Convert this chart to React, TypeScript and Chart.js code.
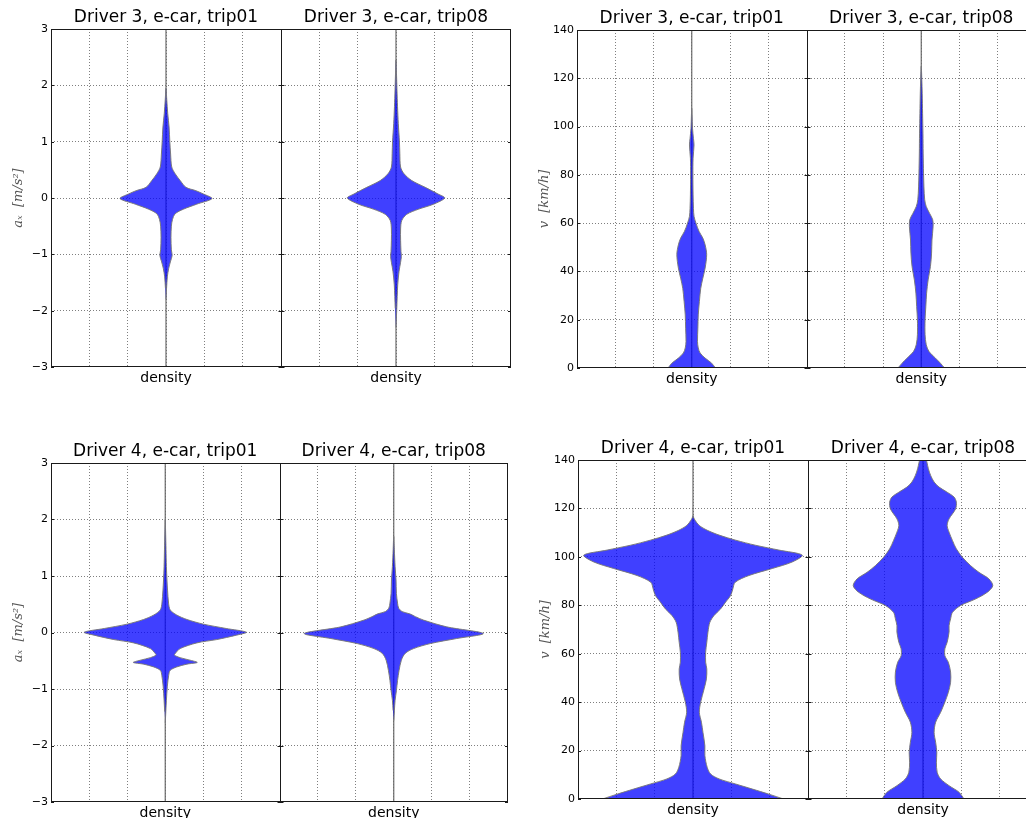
import React, { useEffect, useRef } from 'react';
import { Chart, registerables } from 'chart.js';

Chart.register(...registerables);

// ---------- data ----------
const titlesDriver3 = ['Driver 3, e-car, trip01', 'Driver 3, e-car, trip08'];
const titlesDriver4 = ['Driver 4, e-car, trip01', 'Driver 4, e-car, trip08'];
const xCategoryLabel = 'density';
const accelTitle = 'aₓ  [m/s²]';
const speedTitle = 'v  [km/h]';
const accelTicks = [-3, -2, -1, 0, 1, 2, 3];
const speedTicks = [0, 20, 40, 60, 80, 100, 120, 140];

// violin profiles: y value and half-width (in density grid units)
const d3t01AccY = [-1.8, -1.6, -1.4, -1.25, -1.12, -1.02, -0.92, -0.7, -0.5, -0.38, -0.28, -0.2, -0.11, -0.01, 0.07, 0.13, 0.19, 0.31, 0.43, 0.55, 0.78, 1.0, 1.26, 1.5, 1.74, 1.95];
const d3t01AccW = [0, 0.015, 0.035, 0.07, 0.12, 0.16, 0.14, 0.13, 0.14, 0.17, 0.24, 0.45, 0.8, 1.2, 0.98, 0.78, 0.52, 0.37, 0.24, 0.15, 0.12, 0.1, 0.08, 0.045, 0.02, 0];

const d3t08AccY = [-2.3, -1.96, -1.54, -1.3, -1.14, -1.04, -0.95, -0.75, -0.55, -0.4, -0.29, -0.2, -0.11, 0, 0.07, 0.19, 0.31, 0.43, 0.55, 0.79, 1.0, 1.32, 1.62, 1.92, 2.27, 2.45];
const d3t08AccW = [0, 0.02, 0.045, 0.08, 0.12, 0.14, 0.13, 0.12, 0.12, 0.15, 0.28, 0.58, 0.98, 1.27, 1.1, 0.76, 0.41, 0.21, 0.12, 0.1, 0.09, 0.06, 0.04, 0.025, 0.01, 0];

const d3t01SpdY = [0, 2, 4.1, 6.2, 8.3, 11, 16.5, 22, 27.6, 33, 37.2, 41.4, 47, 51, 53.8, 56.6, 60, 62.8, 66, 71.7, 80, 86.9, 92.4, 95, 99.3, 104.8, 107.6];
const d3t01SpdW = [0.62, 0.52, 0.35, 0.22, 0.17, 0.15, 0.16, 0.17, 0.2, 0.235, 0.29, 0.35, 0.39, 0.35, 0.29, 0.19, 0.11, 0.06, 0.045, 0.035, 0.03, 0.035, 0.06, 0.045, 0.02, 0.008, 0];

const d3t08SpdY = [0, 2, 4.1, 6.9, 9.7, 13.8, 20, 25.5, 31, 36.5, 42, 47.6, 53, 58.6, 61.4, 64, 66.9, 69.7, 75, 80.7, 89, 97, 105.5, 113.8, 119.3, 125];
const d3t08SpdW = [0.61, 0.5, 0.37, 0.2, 0.13, 0.1, 0.1, 0.12, 0.14, 0.18, 0.24, 0.27, 0.28, 0.31, 0.3, 0.22, 0.13, 0.09, 0.07, 0.06, 0.05, 0.045, 0.035, 0.025, 0.015, 0];

const d4t01AccY = [-1.6, -1.4, -1.2, -0.95, -0.76, -0.67, -0.61, -0.56, -0.53, -0.49, -0.445, -0.4, -0.374, -0.285, -0.184, -0.125, -0.047, 0.005, 0.071, 0.148, 0.23, 0.31, 0.4, 0.52, 0.75, 0.93, 1.17, 1.47, 1.76, 2.0];
const d4t01AccW = [0, 0.015, 0.03, 0.055, 0.09, 0.13, 0.3, 0.57, 0.84, 0.65, 0.39, 0.24, 0.26, 0.39, 0.83, 1.35, 1.87, 2.13, 1.6, 1.0, 0.57, 0.3, 0.13, 0.087, 0.06, 0.045, 0.03, 0.02, 0.01, 0];

const d4t08AccY = [-1.56, -1.38, -1.2, -1.03, -0.85, -0.67, -0.49, -0.37, -0.285, -0.196, -0.107, -0.018, 0.1, 0.22, 0.28, 0.33, 0.37, 0.43, 0.52, 0.69, 0.93, 1.17, 1.47, 1.7];
const d4t08AccW = [0, 0.017, 0.035, 0.07, 0.1, 0.14, 0.2, 0.3, 0.52, 0.96, 1.65, 2.35, 1.39, 0.78, 0.57, 0.42, 0.22, 0.13, 0.1, 0.07, 0.06, 0.035, 0.015, 0];

const d4t01SpdY = [0, 2, 4.1, 6.2, 8.3, 10.3, 13.1, 17.9, 22, 27.5, 31.7, 35.8, 40, 45.5, 49.6, 53.7, 56.5, 60.6, 64.7, 68.9, 73, 75.8, 78.5, 81.3, 84, 86.8, 89.5, 92.3, 95.2, 97.9, 100.7, 102.8, 104.8, 106.9, 109, 111, 113, 115.2, 116.5, 117];
const d4t01SpdW = [2.36, 1.98, 1.55, 1.11, 0.68, 0.46, 0.37, 0.31, 0.31, 0.26, 0.22, 0.165, 0.2, 0.29, 0.35, 0.36, 0.33, 0.33, 0.36, 0.39, 0.44, 0.55, 0.72, 0.85, 0.98, 1.04, 1.1, 1.46, 2.07, 2.59, 2.85, 2.24, 1.63, 1.11, 0.68, 0.37, 0.16, 0.05, 0.01, 0];

const d4t08SpdY = [0, 2.8, 5.5, 8.3, 11, 15.2, 19.3, 23.4, 27.5, 31.7, 35.8, 40, 44, 48.2, 52.4, 56.5, 59.2, 62, 64.7, 68.9, 71.6, 74.4, 77.1, 79.9, 82.6, 85.4, 88.1, 90.9, 93.6, 96.4, 99.8, 103.3, 106.7, 110.2, 113, 115.7, 119.8, 122.6, 124.7, 126.7, 128.8, 130.9, 133.6, 136.4, 139.2, 142];
const d4t08SpdW = [1.07, 0.94, 0.68, 0.46, 0.37, 0.35, 0.36, 0.33, 0.29, 0.33, 0.46, 0.57, 0.66, 0.72, 0.72, 0.66, 0.57, 0.57, 0.63, 0.68, 0.68, 0.72, 0.77, 0.98, 1.37, 1.68, 1.82, 1.72, 1.46, 1.24, 1.03, 0.87, 0.77, 0.68, 0.63, 0.68, 0.85, 0.87, 0.81, 0.63, 0.42, 0.29, 0.2, 0.14, 0.1, 0.05];

// ---------- layout / style ----------
const CENTERS = [0, 6];
const X_MIN = -3;
const X_MAX = 9;
const DIVIDER = 3;
const Y_AXIS_W = 50;
const TOP_AXIS_H = 28;
const BOTTOM_AXIS_H = 24;
const RIGHT_PAD = 4;
const FILL = 'rgba(0,0,255,0.75)';
const EDGE = 'rgba(120,120,120,0.95)';
const GRID = 'rgba(0,0,0,0.5)';

type Violin = { y: number[]; w: number[] };
type Spec = {
  titles: string[];
  yTitle: string;
  yTicks: number[];
  violins: Violin[];
  box: { left: number; top: number; plotW: number; plotH: number };
};

const specs: Spec[] = [
  {
    titles: titlesDriver3, yTitle: accelTitle, yTicks: accelTicks,
    violins: [{ y: d3t01AccY, w: d3t01AccW }, { y: d3t08AccY, w: d3t08AccW }],
    box: { left: 51, top: 29, plotW: 460, plotH: 338 },
  },
  {
    titles: titlesDriver3, yTitle: speedTitle, yTicks: speedTicks,
    violins: [{ y: d3t01SpdY, w: d3t01SpdW }, { y: d3t08SpdY, w: d3t08SpdW }],
    box: { left: 577, top: 30, plotW: 459, plotH: 338 },
  },
  {
    titles: titlesDriver4, yTitle: accelTitle, yTicks: accelTicks,
    violins: [{ y: d4t01AccY, w: d4t01AccW }, { y: d4t08AccY, w: d4t08AccW }],
    box: { left: 51, top: 463, plotW: 457, plotH: 339 },
  },
  {
    titles: titlesDriver4, yTitle: speedTitle, yTicks: speedTicks,
    violins: [{ y: d4t01SpdY, w: d4t01SpdW }, { y: d4t08SpdY, w: d4t08SpdW }],
    box: { left: 578, top: 460, plotW: 460, plotH: 339 },
  },
];

const fmt = (v: number) => (v < 0 ? '\u2212' + Math.abs(v) : String(v));

const framePlugin = {
  id: 'frame',
  afterDatasetsDraw(chart: any) {
    const { ctx, chartArea } = chart;
    const { left, right, top, bottom } = chartArea;
    const xs = chart.scales.x;
    const ys = chart.scales.y;
    const mid = Math.round(xs.getPixelForValue(DIVIDER)) + 0.5;
    ctx.save();
    ctx.strokeStyle = '#1a1a1a';
    ctx.lineWidth = 1;
    ctx.setLineDash([]);
    ctx.strokeRect(left + 0.5, top + 0.5, right - left - 1, bottom - top - 1);
    ctx.beginPath();
    ctx.moveTo(mid, top);
    ctx.lineTo(mid, bottom);
    ys.ticks.forEach((t: any) => {
      const y = Math.round(ys.getPixelForValue(t.value)) + 0.5;
      ctx.moveTo(mid - 3, y);
      ctx.lineTo(mid + 3, y);
      ctx.moveTo(left, y);
      ctx.lineTo(left + 3, y);
      ctx.moveTo(right - 3, y);
      ctx.lineTo(right, y);
    });
    ctx.stroke();
    ctx.restore();
  },
};

function buildConfig(spec: Spec): any {
  const yMin = spec.yTicks[0];
  const yMax = spec.yTicks[spec.yTicks.length - 1];
  const yStep = spec.yTicks[1] - spec.yTicks[0];
  const datasets: any[] = [];
  spec.violins.forEach((v, i) => {
    const c = CENTERS[i];
    const pts: { x: number; y: number }[] = [];
    for (let k = 0; k < v.y.length; k++) pts.push({ x: c + v.w[k], y: v.y[k] });
    for (let k = v.y.length - 1; k >= 0; k--) {
      if (v.w[k] === 0) continue;
      pts.push({ x: c - v.w[k], y: v.y[k] });
    }
    datasets.push({
      data: pts,
      fill: 'shape',
      backgroundColor: FILL,
      borderColor: EDGE,
      borderWidth: 1,
      pointRadius: 0,
      tension: 0.3,
    });
  });
  CENTERS.forEach((c) => {
    datasets.push({
      data: [{ x: c, y: yMin }, { x: c, y: yMax }],
      borderColor: '#6a6a6a',
      borderWidth: 1.2,
      pointRadius: 0,
      fill: false,
    });
  });

  return {
    type: 'line',
    data: { datasets },
    plugins: [framePlugin],
    options: {
      responsive: false,
      animation: false,
      events: [],
      layout: { padding: { left: 0, top: 0, right: RIGHT_PAD, bottom: 0 } },
      plugins: { legend: { display: false }, tooltip: { enabled: false } },
      scales: {
        x: {
          type: 'linear',
          position: 'bottom',
          min: X_MIN,
          max: X_MAX,
          afterFit: (s: any) => { s.height = BOTTOM_AXIS_H; },
          ticks: {
            stepSize: 1,
            autoSkip: false,
            maxRotation: 0,
            padding: 3,
            color: '#000',
            font: { size: 14, family: 'DejaVu Sans' },
            callback: (v: number) => (CENTERS.includes(v) ? xCategoryLabel : ''),
          },
          grid: {
            drawTicks: false,
            lineWidth: 1,
            color: (ctx: any) => {
              const v = ctx.tick ? ctx.tick.value : null;
              return v === X_MIN || v === X_MAX || v === DIVIDER ? 'rgba(0,0,0,0)' : GRID;
            },
          },
          border: { display: false, dash: [1, 2] },
        },
        xt: {
          type: 'linear',
          position: 'top',
          min: X_MIN,
          max: X_MAX,
          afterFit: (s: any) => { s.height = TOP_AXIS_H; },
          afterBuildTicks: (s: any) => { s.ticks = CENTERS.map((v) => ({ value: v })); },
          ticks: {
            autoSkip: false,
            maxRotation: 0,
            padding: 1,
            color: '#000',
            font: { size: 17, family: 'DejaVu Sans' },
            callback: (_v: number, i: number) => spec.titles[i],
          },
          grid: { display: false, drawTicks: false },
          border: { display: false },
        },
        y: {
          type: 'linear',
          min: yMin,
          max: yMax,
          afterFit: (s: any) => { s.width = Y_AXIS_W; },
          ticks: {
            stepSize: yStep,
            padding: 3,
            color: '#000',
            font: { size: 11, family: 'DejaVu Sans' },
            callback: (v: number) => fmt(v),
          },
          title: {
            display: true,
            text: spec.yTitle,
            color: '#555',
            font: { size: 13, family: 'DejaVu Serif', style: 'italic' },
            padding: { top: 10, bottom: 0 },
          },
          grid: {
            drawTicks: false,
            lineWidth: 1,
            color: (ctx: any) => {
              const v = ctx.tick ? ctx.tick.value : null;
              return v === yMin || v === yMax ? 'rgba(0,0,0,0)' : GRID;
            },
          },
          border: { display: false, dash: [1, 2] },
        },
      },
    },
  };
}

function Panel({ spec }: { spec: Spec }) {
  const ref = useRef<HTMLCanvasElement>(null);
  const w = Y_AXIS_W + spec.box.plotW + RIGHT_PAD;
  const h = TOP_AXIS_H + spec.box.plotH + BOTTOM_AXIS_H;
  useEffect(() => {
    const chart = new Chart(ref.current as HTMLCanvasElement, buildConfig(spec));
    return () => chart.destroy();
  }, [spec]);
  return (
    <canvas
      ref={ref}
      width={w}
      height={h}
      style={{
        position: 'absolute',
        left: spec.box.left - Y_AXIS_W,
        top: spec.box.top - TOP_AXIS_H,
        width: w,
        height: h,
      }}
    />
  );
}

export default function App() {
  return (
    <div
      style={{
        position: 'fixed',
        left: 0,
        top: 0,
        width: 1026,
        height: 818,
        overflow: 'hidden',
        background: '#fff',
      }}
    >
      {specs.map((s, i) => (
        <Panel key={i} spec={s} />
      ))}
    </div>
  );
}
